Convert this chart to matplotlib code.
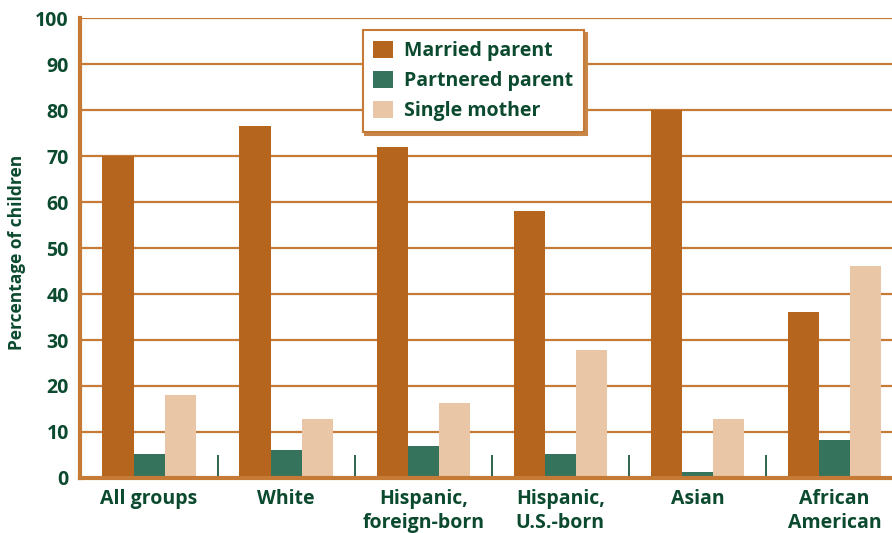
import matplotlib.pyplot as plt
import numpy as np

# data
groups = ['All groups', 'White', 'Hispanic,\nforeign-born', 'Hispanic,\nU.S.-born',
          'Asian', 'African\nAmerican']
married = [70, 76.6, 72, 58, 80, 36]
partnered = [5.2, 6, 7, 5.2, 1.3, 8.3]
single = [18, 12.8, 16.3, 27.8, 12.8, 46]

orange = '#B5651D'
green = '#36735C'
tan = '#E9C6A5'
text_green = '#0B4A2E'
line_orange = '#C57A35'

plt.rcParams['font.family'] = ['Open Sans', 'DejaVu Sans']
plt.rcParams['font.weight'] = 'bold'

x = np.arange(len(groups))
width = 0.227

fig = plt.figure(figsize=(8.92, 5.33), dpi=100)
ax = fig.add_axes([0.0897, 0.1032, 0.9103, 0.863])

ax.set_axisbelow(True)
ax.yaxis.grid(True, color=line_orange, linewidth=1.6)
b1 = ax.bar(x - width, married, width, color=orange, label='Married parent', zorder=3)
b2 = ax.bar(x, partnered, width, color=green, label='Partnered parent', zorder=3)
b3 = ax.bar(x + width, single, width, color=tan, label='Single mother', zorder=3)

# separators between groups
ax.vlines(x[:-1] + 0.5, 0, 5, color=text_green, linewidth=1.2, zorder=2)

ax.set_xlim(-0.504, 5.42)
ax.set_ylim(0, 100)
ax.set_yticks(np.arange(0, 101, 10))
ax.set_xticks(x)
ax.set_xticklabels(groups, fontsize=14, color=text_green, linespacing=1.25)
ax.tick_params(axis='x', length=0, pad=8)
ax.tick_params(axis='y', length=0, pad=8, labelsize=14, labelcolor=text_green)
ax.set_ylabel('Percentage of children', fontsize=12.5, color=text_green,
              fontweight='bold')
ax.yaxis.set_label_coords(-0.066, 0.49)

for s in ['top', 'right']:
    ax.spines[s].set_visible(False)
for s in ['left', 'bottom']:
    ax.spines[s].set_color(line_orange)
    ax.spines[s].set_linewidth(3)
    ax.spines[s].set_zorder(4)

leg = ax.legend(loc='upper left', bbox_to_anchor=(0.348, 0.974), borderaxespad=0,
                fontsize=14, frameon=True, fancybox=False,
                shadow={'color': '#C8874A', 'alpha': 1},
                handlelength=1.0, handleheight=1.0, handletextpad=0.6,
                labelspacing=0.5, borderpad=0.55)
leg.get_frame().set_edgecolor(line_orange)
leg.get_frame().set_linewidth(1.5)
for t in leg.get_texts():
    t.set_color(text_green)

fig.savefig('out.png', dpi=100)
